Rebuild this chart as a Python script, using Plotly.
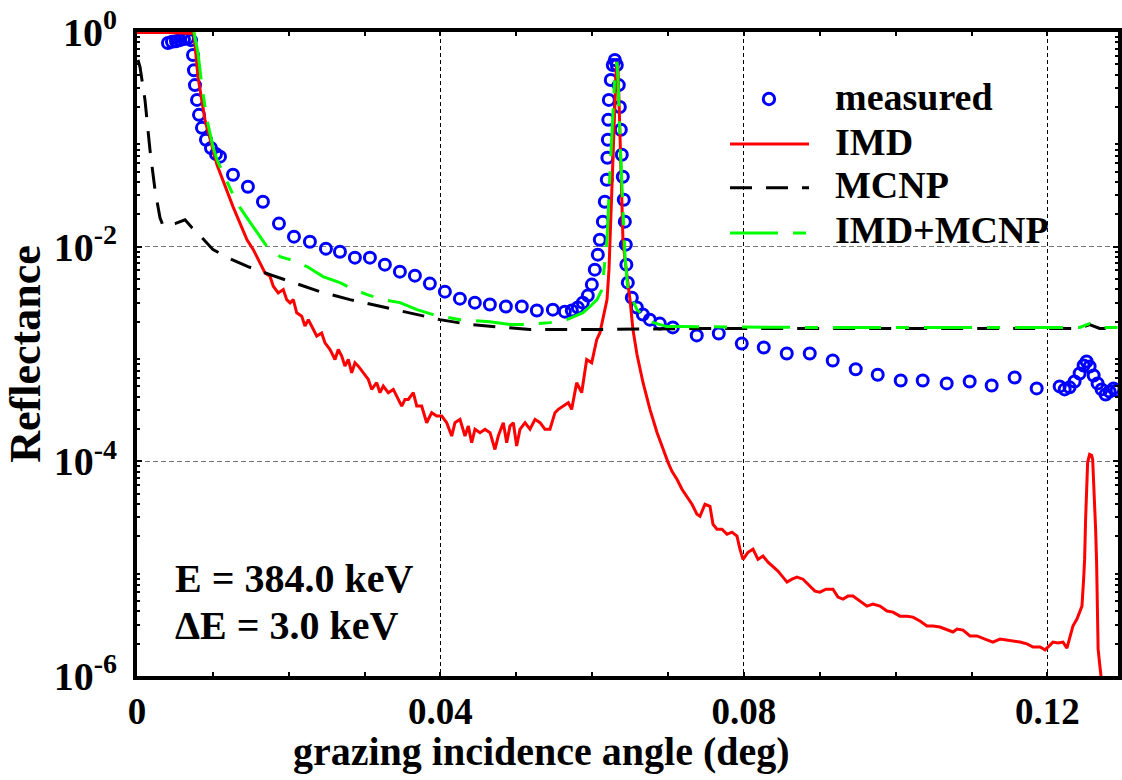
import plotly.graph_objects as go

# measured reflectance (open circles)
meas_x = [0.00408, 0.00461, 0.00514, 0.00567, 0.00619, 0.00672, 0.00711, 0.00738, 0.00751, 0.00764,
          0.00791, 0.00817, 0.00856, 0.00909, 0.00975, 0.01041, 0.01094,
          0.01265, 0.01462, 0.01660, 0.01871, 0.02069, 0.02279, 0.02490, 0.02675, 0.02872, 0.03070,
          0.03267, 0.03465, 0.03663, 0.03860, 0.04058, 0.04256, 0.04453, 0.04651, 0.04862, 0.05072,
          0.05270, 0.05481,
          0.05639, 0.05731, 0.05810, 0.05876, 0.05942, 0.05995, 0.06034, 0.06074, 0.06100, 0.06140,
          0.06166, 0.06192, 0.06200, 0.06206, 0.06212, 0.06219, 0.06245, 0.06271, 0.06298,
          0.06324, 0.06350, 0.06364, 0.06377, 0.06390, 0.06403, 0.06416, 0.06430, 0.06443, 0.06450,
          0.06469, 0.06522, 0.06588, 0.06667, 0.06759, 0.06891,
          0.07062, 0.07378, 0.07668, 0.07971, 0.08261, 0.08564, 0.08867, 0.09170, 0.09473, 0.09763,
          0.10066, 0.10356, 0.10672, 0.10975, 0.11265, 0.11568, 0.11858, 0.12161,
          0.12227, 0.12292, 0.12358, 0.12424, 0.12477, 0.12516, 0.12556, 0.12609, 0.12661, 0.12714,
          0.12767, 0.12819, 0.12872, 0.12912]
meas_y = [0.79, 0.81, 0.82, 0.84, 0.86, 0.88, 0.84, 0.61, 0.44, 0.32,
          0.233, 0.169, 0.128, 0.099, 0.083, 0.073, 0.069,
          0.0468, 0.0362, 0.0262, 0.0164, 0.0124, 0.0111, 0.00958, 0.00898, 0.00790, 0.00790,
          0.00680, 0.00585, 0.00537, 0.00453, 0.00381, 0.00328, 0.00301, 0.00289, 0.00277, 0.00277,
          0.00254, 0.00259,
          0.00248, 0.00254, 0.00271, 0.00301, 0.00350, 0.00443, 0.00611, 0.00843, 0.0116, 0.0171,
          0.0262, 0.0420, 0.0673, 0.099, 0.152, 0.233, 0.357, 0.493, 0.549,
          0.493, 0.32, 0.200, 0.123, 0.0718, 0.0448, 0.0274, 0.0171, 0.01044, 0.00680,
          0.00462, 0.00335, 0.00271, 0.00233, 0.00209, 0.00192,
          0.00177, 0.00149, 0.00155, 0.00125, 0.00115, 0.00101, 0.00101, 0.00087, 0.00072, 0.00064,
          0.000567, 0.000567, 0.000532, 0.000555, 0.000509, 0.000604, 0.000478, 0.000499,
          0.000468, 0.000489, 0.000555, 0.000659, 0.000782, 0.000851, 0.000766, 0.000631, 0.000532, 0.000468,
          0.000420, 0.000448, 0.000478, 0.000457]

# IMD simulation (red)
imd_x = [0.0, 0.004, 0.0075, 0.00804, 0.00896, 0.01054, 0.01265, 0.01450, 0.01533, 0.01621,
         0.01687, 0.01753, 0.01796, 0.01862, 0.01928, 0.01973, 0.02017, 0.02060, 0.02105, 0.02171,
         0.02214, 0.02258, 0.02324, 0.02369, 0.02434, 0.02478, 0.02544, 0.02610, 0.02653, 0.02698,
         0.02741, 0.02785, 0.02830, 0.02873, 0.02917, 0.02983, 0.03049, 0.03093, 0.03159, 0.03203,
         0.03246, 0.03312, 0.03378, 0.03423, 0.03489, 0.03532, 0.03576, 0.03642, 0.03687, 0.03752,
         0.03818, 0.03884, 0.03950, 0.04016, 0.04082, 0.04148, 0.04191, 0.04257, 0.04323, 0.04367,
         0.04411, 0.04455, 0.04521, 0.04587, 0.04653, 0.04718, 0.04762, 0.04828, 0.04873, 0.04916,
         0.04960, 0.05004, 0.05048, 0.05114, 0.05180, 0.05246, 0.05312, 0.05377, 0.05443, 0.05509,
         0.05553, 0.05619, 0.05685, 0.05729, 0.05795, 0.05861, 0.05927, 0.05993, 0.06059, 0.06102,
         0.06155, 0.06195, 0.06221, 0.06234, 0.06261, 0.06287, 0.06300, 0.06313, 0.06326, 0.06340,
         0.06353, 0.06366, 0.06392, 0.06405, 0.06432, 0.06458, 0.06498, 0.06537, 0.06590, 0.06669,
         0.06761, 0.06854, 0.06933, 0.06999, 0.07051, 0.07117, 0.07183, 0.07249, 0.07315, 0.07381,
         0.07420, 0.07486, 0.07552, 0.07592, 0.07644, 0.07710, 0.07776, 0.07842, 0.07908, 0.07947,
         0.07987, 0.08053, 0.08119, 0.08185, 0.08251, 0.08317, 0.08382, 0.08448, 0.08514, 0.08567,
         0.08633, 0.08699, 0.08778, 0.08844, 0.08936, 0.09002, 0.09081, 0.09173, 0.09239, 0.09305,
         0.09371, 0.09437, 0.09529, 0.09621, 0.09700, 0.09793, 0.09885, 0.09964, 0.10056, 0.10148,
         0.10227, 0.10320, 0.10412, 0.10491, 0.10583, 0.10676, 0.10755, 0.10808, 0.10887, 0.10979,
         0.11071, 0.11177, 0.11282, 0.11374, 0.11467, 0.11546, 0.11638, 0.11730, 0.11810, 0.11902,
         0.11968, 0.12020, 0.12073, 0.12139, 0.12205, 0.12257, 0.12297, 0.12336, 0.12389, 0.12428,
         0.12455, 0.12477, 0.12490, 0.12503, 0.12516, 0.12530, 0.12556, 0.12582, 0.12596, 0.12609,
         0.12622, 0.12635, 0.12648, 0.12662, 0.12668, 0.12688, 0.12714, 0.12741]
imd_y = [0.99, 0.99, 0.97, 0.381, 0.152, 0.0579, 0.0236, 0.0116, 0.00938, 0.00706,
         0.00569, 0.00530, 0.00428, 0.00371, 0.00398, 0.00321, 0.00299, 0.00321, 0.00242, 0.00225,
         0.00182, 0.00209, 0.00169, 0.00147, 0.00157, 0.00127, 0.00110, 0.000889, 0.00110, 0.000955,
         0.000771, 0.000889, 0.000668, 0.000828, 0.000771, 0.000668, 0.000579, 0.000468, 0.000540, 0.000436,
         0.000502, 0.000436, 0.000468, 0.000405, 0.000327, 0.000377, 0.000377, 0.000436, 0.000327, 0.000327,
         0.000229, 0.000284, 0.000264, 0.000264, 0.000229, 0.000172, 0.000229, 0.000246, 0.000172, 0.000213,
         0.000149, 0.000199, 0.000185, 0.000199, 0.000185, 0.000129, 0.000172, 0.000229, 0.000149, 0.000213,
         0.000229, 0.000139, 0.000199, 0.000229, 0.000199, 0.000246, 0.000229, 0.000199, 0.000199, 0.000284,
         0.000305, 0.000327, 0.000352, 0.000305, 0.000540, 0.000436, 0.000889, 0.000828, 0.00136, 0.00158,
         0.00233, 0.00321, 0.00611, 0.0116, 0.0488, 0.152, 0.233, 0.398, 0.526, 0.443,
         0.233, 0.0989, 0.0274, 0.0116, 0.00757, 0.00549, 0.00321, 0.00169, 0.000989, 0.000543,
         0.000305, 0.000186, 0.000129, 9.79e-5, 8.07e-5, 6.81e-5, 5.49e-5, 4.72e-5, 3.98e-5, 3.21e-5,
         3.08e-5, 3.98e-5, 3.81e-5, 2.59e-5, 2.33e-5, 2.33e-5, 2.09e-5, 2.19e-5, 2.01e-5, 1.52e-5,
         1.22e-5, 1.42e-5, 1.52e-5, 1.22e-5, 1.31e-5, 1.15e-5, 1.05e-5, 9.48e-6, 8.34e-6, 7.49e-6,
         7.98e-6, 8.34e-6, 7.98e-6, 7.18e-6, 6.18e-6, 6.04e-6, 6.44e-6, 6.44e-6, 5.43e-6, 5.20e-6,
         5.55e-6, 5.55e-6, 4.99e-6, 4.48e-6, 4.68e-6, 4.48e-6, 4.03e-6, 3.94e-6, 3.61e-6, 3.61e-6,
         3.54e-6, 3.25e-6, 2.92e-6, 2.92e-6, 2.86e-6, 2.68e-6, 2.57e-6, 2.74e-6, 2.68e-6, 2.36e-6,
         2.36e-6, 2.21e-6, 2.07e-6, 2.21e-6, 2.16e-6, 2.12e-6, 2.07e-6, 1.99e-6, 1.86e-6, 1.86e-6,
         1.75e-6, 1.90e-6, 2.07e-6, 2.03e-6, 2.07e-6, 1.82e-6, 2.31e-6, 2.92e-6, 3.39e-6, 4.03e-6,
         4.48e-6, 7.98e-6, 1.22e-5, 2.89e-5, 6.81e-5, 9.79e-5, 1.16e-4, 1.14e-4, 1.04e-4, 6.81e-5,
         4.72e-5, 2.33e-5, 1.15e-5, 4.2e-6, 1.78e-6, 1.3e-6, 9.4e-7, 6.0e-7]

# MCNP simulation (black dashed)
mcnp_x = [0.00013, 0.0004, 0.00105, 0.00171, 0.00237, 0.00303, 0.00343, 0.00501, 0.00633, 0.00725,
          0.0083, 0.01002, 0.01252, 0.01463, 0.01753, 0.02017, 0.02412, 0.02807, 0.03203, 0.03598,
          0.03992, 0.04387, 0.04783, 0.05178, 0.061, 0.0742, 0.1005, 0.12424, 0.12556, 0.12688, 0.12925]
mcnp_y = [0.55, 0.472, 0.233, 0.0798, 0.0339, 0.0186, 0.0157, 0.0164, 0.0178, 0.0150,
          0.0127, 0.00938, 0.00757, 0.00652, 0.00549, 0.00472, 0.00381, 0.00321, 0.00277, 0.00243,
          0.00209, 0.00188, 0.00177, 0.00169, 0.00169, 0.00173, 0.00173, 0.00173, 0.00188, 0.00173, 0.00173]

# IMD+MCNP (green dashed)
sum_x = [0.0075, 0.00804, 0.00857, 0.00923, 0.01002, 0.01054, 0.01133, 0.01265, 0.01358, 0.01529,
         0.01713, 0.01885, 0.02017, 0.02241, 0.02452, 0.02675, 0.02807, 0.03031, 0.03242, 0.03466,
         0.03690, 0.03901, 0.04257, 0.04651, 0.04916, 0.05140, 0.05443, 0.05667, 0.05878, 0.05971,
         0.06063, 0.06129, 0.06195, 0.06234, 0.06274, 0.06300, 0.06326, 0.06340, 0.06366, 0.06405,
         0.06432, 0.06471, 0.06590, 0.06761, 0.06983, 0.07154, 0.08735, 0.11374, 0.12424, 0.12556,
         0.12688, 0.12925]
sum_y = [1.0, 0.638, 0.308, 0.152, 0.0851, 0.0645, 0.0488, 0.0305, 0.0231, 0.0153,
         0.0100, 0.00807, 0.00757, 0.00652, 0.00526, 0.00462, 0.00416, 0.00357, 0.00321, 0.00301,
         0.00259, 0.00233, 0.00209, 0.00200, 0.00188, 0.00188, 0.00196, 0.00209, 0.00243, 0.00277,
         0.00321, 0.00398, 0.0116, 0.0488, 0.200, 0.416, 0.526, 0.357, 0.0989, 0.0236,
         0.00807, 0.00398, 0.00259, 0.00200, 0.00180, 0.00180, 0.00177, 0.00177, 0.00177, 0.00192,
         0.00177, 0.00177]

series_names = ["measured", "IMD", "MCNP", "IMD+MCNP"]

x_ticks = [0, 0.04, 0.08, 0.12]
x_ticktext = ["0", "0.04", "0.08", "0.12"]
y_ticks = [1e-6, 1e-4, 1e-2, 1]
y_ticktext = ["10<sup>-6</sup>", "10<sup>-4</sup>", "10<sup>-2</sup>", "10<sup>0</sup>"]

FONT = "Liberation Serif"
BLUE, RED, GREEN = "#0000ff", "#ff0000", "#00ff00"
MCNP_DASH = "22px,14px"
SUM_DASH = "48px,15px,13px,15px"

fig = go.Figure()
fig.add_trace(go.Scatter(x=meas_x, y=meas_y, mode="markers", name=series_names[0],
                         marker=dict(symbol="circle-open", size=11, color=BLUE,
                                     line=dict(width=3, color=BLUE))))
fig.add_trace(go.Scatter(x=imd_x, y=imd_y, mode="lines", name=series_names[1],
                         line=dict(color=RED, width=3)))
fig.add_trace(go.Scatter(x=mcnp_x, y=mcnp_y, mode="lines", name=series_names[2],
                         line=dict(color="black", width=3, dash=MCNP_DASH)))
fig.add_trace(go.Scatter(x=sum_x, y=sum_y, mode="lines", name=series_names[3],
                         line=dict(color=GREEN, width=3, dash=SUM_DASH)))

# hand-built legend (long line samples as in the original)
leg_text_x = 0.7095
leg_rows = [0.899, 0.829, 0.762, 0.692]
annotations = [dict(text=n, xref="paper", yref="paper", x=leg_text_x, y=yy,
                    xanchor="left", yanchor="middle", showarrow=False,
                    font=dict(family=FONT, size=38, weight="bold"))
               for n, yy in zip(series_names, leg_rows)]
annotations += [
    dict(text="E = 384.0 keV", xref="paper", yref="paper", x=0.037, y=0.152,
         xanchor="left", yanchor="middle", showarrow=False,
         font=dict(family=FONT, size=40, weight="bold")),
    dict(text="ΔE = 3.0 keV", xref="paper", yref="paper", x=0.037, y=0.079,
         xanchor="left", yanchor="middle", showarrow=False,
         font=dict(family=FONT, size=40, weight="bold")),
    # x-axis title sits left of the plot centre in the original
    dict(text="grazing incidence angle (deg)", xref="paper", yref="paper", x=0.412, y=-0.118,
         xanchor="center", yanchor="middle", showarrow=False,
         font=dict(family=FONT, size=40, weight="bold")),
]
shapes = [
    dict(type="circle", xref="paper", yref="paper", x0=0.6442 - 0.0058, x1=0.6442 + 0.0058,
         y0=0.896 - 0.0088, y1=0.896 + 0.0088, line=dict(color=BLUE, width=3)),
    dict(type="line", xref="paper", yref="paper", x0=0.6045, x1=0.685, y0=0.826, y1=0.826,
         line=dict(color=RED, width=3)),
    dict(type="line", xref="paper", yref="paper", x0=0.6045, x1=0.685, y0=0.758, y1=0.758,
         line=dict(color="black", width=3, dash=MCNP_DASH)),
    dict(type="line", xref="paper", yref="paper", x0=0.6045, x1=0.685, y0=0.688, y1=0.688,
         line=dict(color=GREEN, width=3, dash=SUM_DASH)),
]

# minor tick positions
y_minor = [m * 10 ** e for e in range(-6, 0) for m in range(2, 10)]

fig.update_layout(
    width=1122, height=780,
    margin=dict(l=137, r=4, t=32, b=104, autoexpand=False),
    paper_bgcolor="white", plot_bgcolor="white",
    font=dict(family=FONT, size=36, color="black", weight="bold"),
    showlegend=False,
    annotations=annotations,
    shapes=shapes,
)

fig.update_xaxes(
    range=[0, 0.1293], tickmode="array", tickvals=x_ticks, ticktext=x_ticktext,
    ticks="inside", ticklen=4, tickwidth=2, tickcolor="black",
    showline=True, linewidth=4, linecolor="black", mirror="allticks",
    showgrid=True, gridcolor="black", gridwidth=1, griddash="4px,3px",
    zeroline=False, automargin=False,
    minor=dict(tickmode="linear", tick0=0, dtick=0.01, ticks="inside", ticklen=4,
               tickwidth=2, tickcolor="black", showgrid=False),
    tickfont=dict(family=FONT, size=37, weight="bold"),
)
fig.update_yaxes(
    type="log", range=[-6, 0], tickmode="array", tickvals=y_ticks, ticktext=y_ticktext,
    ticks="inside", ticklen=5, tickwidth=2, tickcolor="black", ticklabelstandoff=8,
    showline=True, linewidth=4, linecolor="black", mirror="allticks",
    showgrid=True, gridcolor="#777777", gridwidth=1, griddash="5px,3px",
    zeroline=False, automargin=False,
    minor=dict(tickmode="array", tickvals=y_minor, ticks="inside", ticklen=3,
               tickwidth=2, tickcolor="black", showgrid=False),
    tickfont=dict(family=FONT, size=40, weight="bold"),
    title=dict(text="Reflectance", standoff=0,
               font=dict(family=FONT, size=44, weight="bold")),
)

fig.write_html("out.html", config={"displayModeBar": False},
               post_script="document.body.style.margin='0';document.body.style.overflow='hidden';")
